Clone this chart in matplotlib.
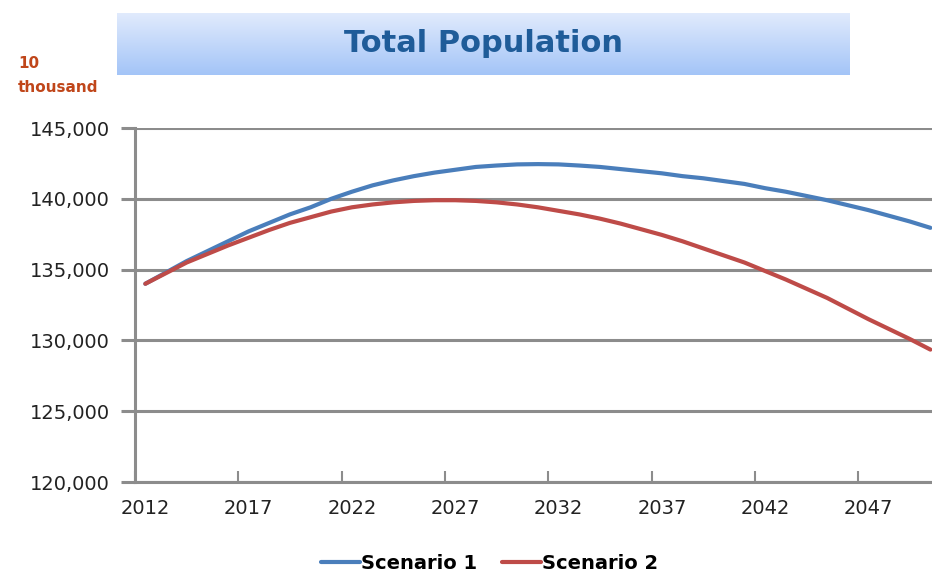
import numpy as np
import matplotlib
matplotlib.use("Agg")
import matplotlib.pyplot as plt

# population, unit: 10 thousand
years = list(range(2012, 2051))
scenario1 = [134000, 134800, 135600, 136300, 137000, 137700, 138300, 138900, 139400, 140000,
             140500, 140950, 141300, 141600, 141850, 142050, 142250, 142350, 142430, 142450,
             142430, 142350, 142250, 142100, 141950, 141800, 141600, 141450, 141250, 141050,
             140750, 140500, 140200, 139900, 139550, 139200, 138800, 138400, 137950]
scenario2 = [134000, 134750, 135500, 136100, 136700, 137250, 137800, 138300, 138700, 139100,
             139400, 139600, 139750, 139850, 139900, 139900, 139850, 139750, 139600, 139400,
             139150, 138900, 138600, 138250, 137850, 137450, 137000, 136500, 136000, 135500,
             134900, 134300, 133650, 133000, 132250, 131500, 130800, 130100, 129350]
series_names = ["Scenario 1", "Scenario 2"]
label_years = list(range(2012, 2050, 5))
y_ticks = [120000, 125000, 130000, 135000, 140000, 145000]

fig = plt.figure(figsize=(9.32, 5.76), dpi=100)
W, H = 932, 576

# title banner with a soft gradient
bax = fig.add_axes([117 / W, 1 - 75 / H, (850 - 117) / W, 62 / H])
grad = np.linspace(0, 1, 100).reshape(-1, 1)
top = np.array([0.88, 0.92, 0.99])
bot = np.array([0.64, 0.77, 0.97])
img = top + (bot - top) * grad[:, :, None]
bax.imshow(img, aspect="auto", extent=[0, 1, 0, 1])
bax.axis("off")
bax.text(0.5, 0.5, "Total Population", ha="center", va="center",
         fontsize=22, fontweight="bold", color="#1f5c99")

ax = fig.add_axes([135 / W, 1 - 482 / H, (W - 135) / W, (482 - 128) / H])
ax.plot(years, scenario1, color="#4a7ebb", lw=3, label=series_names[0], solid_capstyle="round")
ax.plot(years, scenario2, color="#be4b48", lw=3, label=series_names[1], solid_capstyle="round")

ax.set_xlim(2011.5, 2011.5 + (W - 135) / 20.66)
ax.set_ylim(120000, 145000)
ax.set_yticks(y_ticks)
ax.set_yticklabels([f"{v:,}" for v in y_ticks], fontsize=14, color="#222222")
ax.grid(axis="y", color="#8c8c8c", lw=2.2)
ax.set_axisbelow(True)

ax.set_xticks([y - 0.5 for y in label_years])
ax.set_xticklabels([])
ax.set_xticks(label_years, minor=True)
ax.set_xticklabels([str(y) for y in label_years], minor=True, fontsize=14, color="#222222")
ax.tick_params(axis="x", which="major", direction="in", length=8, width=1.5, color="#8c8c8c")
ax.tick_params(axis="x", which="minor", length=0, pad=12)
ax.tick_params(axis="y", length=10, width=2.2, color="#8c8c8c", pad=8)

for side in ["top", "right"]:
    ax.spines[side].set_visible(False)
for side in ["left", "bottom"]:
    ax.spines[side].set_color("#8c8c8c")
    ax.spines[side].set_linewidth(2.2)

fig.text(18 / W, 1 - 63 / H, "10", color="#c0461a", fontsize=11, fontweight="bold", va="center")
fig.text(18 / W, 1 - 88 / H, "thousand", color="#c0461a", fontsize=11, fontweight="bold", va="center")

fig.legend(loc="lower center", bbox_to_anchor=(0.525, -0.025), ncol=2, frameon=False,
           handlelength=2.0, handletextpad=0.05, columnspacing=1.3,
           prop={"weight": "bold", "size": 14})

fig.savefig("out.png", dpi=100)
